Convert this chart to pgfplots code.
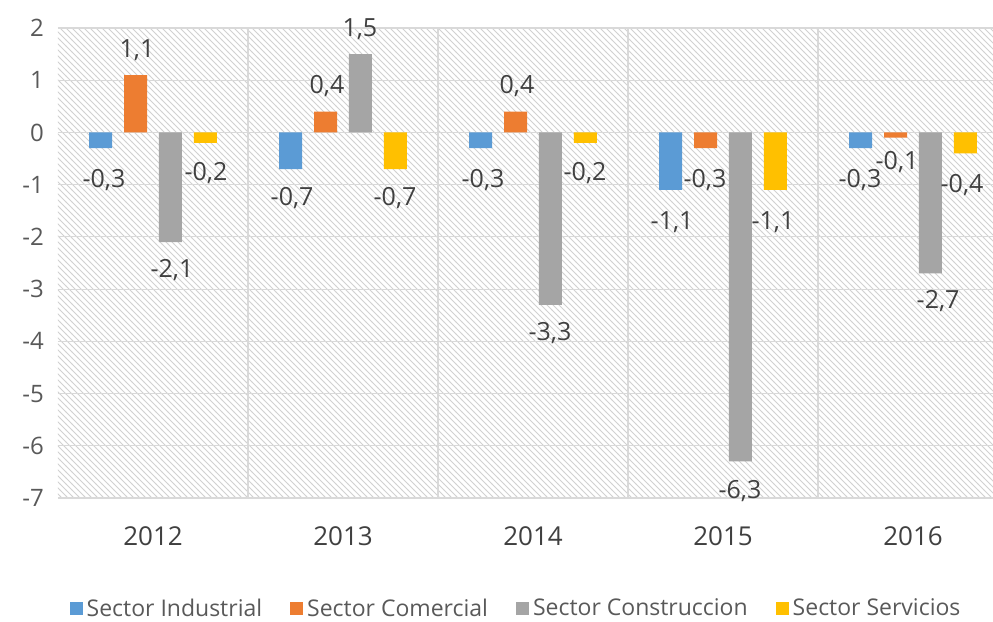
\documentclass[border=0pt]{standalone}
\usepackage{pgfplots}
\pgfplotsset{compat=1.18}
\usepackage{fontspec}
\setmainfont{Open Sans}
\usetikzlibrary{patterns}
\definecolor{cblue}{HTML}{5B9BD5}
\definecolor{corange}{HTML}{ED7D31}
\definecolor{cgray}{HTML}{A5A5A5}
\definecolor{cyellow}{HTML}{FFC000}
\definecolor{gridc}{HTML}{D9D9D9}
\definecolor{txt}{HTML}{595959}
\definecolor{lbl}{HTML}{404040}
\begin{document}
\begin{tikzpicture}
\begin{axis}[name=ax, scale only axis, width=467.5pt, height=235pt,
 xmin=-0.5, xmax=4.421, ymin=-7, ymax=2,
 ytick={-7,...,2}, yticklabels={-7,-6,-5,-4,-3,-2,-1,0,1,2},
 xtick={0,...,4}, xticklabels={2012,2013,2014,2015,2016},
 minor xtick={0.5,1.5,2.5,3.5},
 ymajorgrids, xminorgrids,
 major grid style={gridc, line width=0.6pt},
 minor grid style={gridc, line width=0.6pt},
 axis line style={draw=none},
 major tick length=0pt, minor tick length=0pt,
 tick style={draw=none},
 yticklabel style={font=\fontsize{12}{14}\selectfont, text=txt, xshift=-3.5pt},
 xticklabel style={font=\fontsize{13}{15}\selectfont, text=lbl, yshift=-11pt},
 axis background/.style={pattern=north west lines, pattern color=black!18},
 ybar, bar width=0.121,
 legend style={at={(0.491,-0.236)}, anchor=center, draw=none, fill=none,
   legend columns=4, font=\fontsize{11.5}{13}\selectfont, text=txt,
   /tikz/every even column/.append style={column sep=12pt}},
 legend image code/.code={\fill[#1] (-3pt,-3pt) rectangle (3.5pt,3.5pt);},
 clip=false,
]
\addplot[fill=cblue, draw=none, bar shift=-0.276] coordinates {(0,-0.3) (1,-0.7) (2,-0.3) (3,-1.1) (4,-0.3)};
\addplot[fill=corange, draw=none, bar shift=-0.092] coordinates {(0,1.1) (1,0.4) (2,0.4) (3,-0.3) (4,-0.1)};
\addplot[fill=cgray, draw=none, bar shift=0.092] coordinates {(0,-2.1) (1,1.5) (2,-3.3) (3,-6.3) (4,-2.7)};
\addplot[fill=cyellow, draw=none, bar shift=0.276] coordinates {(0,-0.2) (1,-0.7) (2,-0.2) (3,-1.1) (4,-0.4)};
\legend{Sector Industrial, Sector Comercial, Sector Construccion, Sector Servicios}
\begin{scope}[every node/.style={font=\fontsize{12.5}{14}\selectfont, text=lbl, inner sep=0pt}]
\node at (axis cs:-0.084,1.57) {1,1};
\node at (axis cs:-0.258,-0.92) {-0,3};
\node at (axis cs:0.100,-2.64) {-2,1};
\node at (axis cs:0.279,-0.785) {-0,2};
\node at (axis cs:0.732,-1.26) {-0,7};
\node at (axis cs:0.916,0.88) {0,4};
\node at (axis cs:1.089,1.97) {1,5};
\node at (axis cs:1.274,-1.26) {-0,7};
\node at (axis cs:1.737,-0.92) {-0,3};
\node at (axis cs:1.916,0.88) {0,4};
\node at (axis cs:2.089,-3.85) {-3,3};
\node at (axis cs:2.274,-0.785) {-0,2};
\node at (axis cs:2.732,-1.72) {-1,1};
\node at (axis cs:2.905,-0.92) {-0,3};
\node at (axis cs:3.089,-6.86) {-6,3};
\node at (axis cs:3.263,-1.72) {-1,1};
\node at (axis cs:3.721,-0.92) {-0,3};
\node at (axis cs:3.916,-0.575) {-0,1};
\node at (axis cs:4.132,-3.22) {-2,7};
\node at (axis cs:4.258,-1.015) {-0,4};
\end{scope}
\end{axis}
\pgfresetboundingbox
\path ([xshift=-29pt,yshift=-62pt]ax.south west) rectangle ([yshift=14pt]ax.north east);
\end{tikzpicture}
\end{document}
